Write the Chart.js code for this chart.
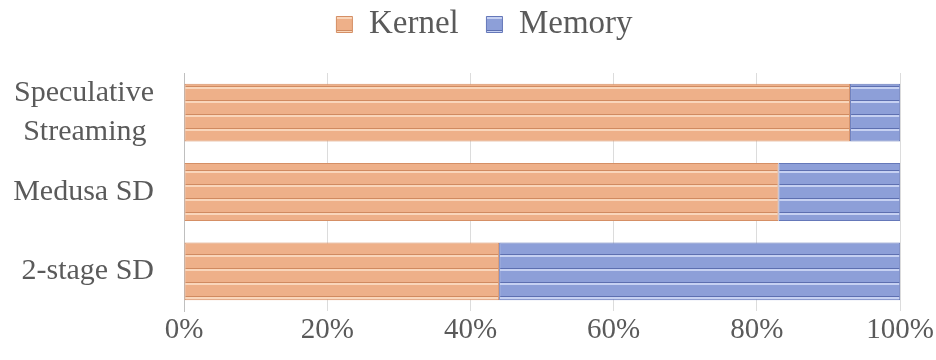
<!DOCTYPE html>
<html>
<head>
<meta charset="utf-8">
<script src="https://cdn.jsdelivr.net/npm/chart.js@4"></script>
<style>
  html, body { margin: 0; padding: 0; background: #fff; }
  #wrap { width: 936px; height: 360px; }
</style>
</head>
<body>
<div id="wrap"><canvas id="breakdown"></canvas></div>
<script>
'use strict';

const CATEGORIES = [['Speculative', 'Streaming '], 'Medusa SD', '2-stage SD'];
const KERNEL     = [93, 83, 44];
const MEMORY     = [7, 17, 56];
const X_TICKS    = [0, 20, 40, 60, 80, 100];

const TEXT_COLOR = '#5a5a5a';
const SERIF      = '"Liberation Serif", "DejaVu Serif", serif';

// Horizontal striped fill used for bars and legend swatches (14px period)
function stripes(base, dark, light) {
  const c = document.createElement('canvas');
  c.width = 4;
  c.height = 14;
  const g = c.getContext('2d');
  g.fillStyle = base;
  g.fillRect(0, 0, 4, 14);
  g.fillStyle = dark;
  g.fillRect(0, 2, 4, 1);
  g.fillStyle = light;
  g.fillRect(0, 3, 4, 2);
  return g.createPattern(c, 'repeat');
}

const kernelFill = stripes('#eeb089', '#d08a60', '#f9d6bb');
const memoryFill = stripes('#8d9fd8', '#5d6fb0', '#c6d1f2');

// extra room under the legend and a nudge to the right
const legendPlacement = {
  id: 'legendPlacement',
  beforeInit(chart) {
    const fit = chart.legend.fit;
    chart.legend.fit = function () {
      fit.call(this);
      this.height += 22;
    };
  },
  afterLayout(chart) {
    chart.legend.left += 34;
    chart.legend.right += 34;
  },
};

new Chart(document.getElementById('breakdown'), {
  type: 'bar',
  data: {
    labels: CATEGORIES,
    datasets: [
      {
        label: 'Kernel',
        data: KERNEL,
        backgroundColor: kernelFill,
        borderColor: '#d58f65',
        borderWidth: 1,
        borderSkipped: false,
      },
      {
        label: 'Memory',
        data: MEMORY,
        backgroundColor: memoryFill,
        borderColor: '#6578b9',
        borderWidth: 1,
        borderSkipped: false,
      },
    ],
  },
  options: {
    indexAxis: 'y',
    responsive: true,
    maintainAspectRatio: false,
    animation: false,
    layout: { padding: { top: 5, right: 35, bottom: 0, left: 0 } },
    datasets: {
      bar: { barPercentage: 0.73, categoryPercentage: 1.0 },
    },
    plugins: {
      tooltip: { enabled: false },
      legend: {
        position: 'top',
        labels: {
          color: TEXT_COLOR,
          font: { family: SERIF, size: 33 },
          boxWidth: 16,
          boxHeight: 16,
          padding: 3,
          generateLabels: chart => {
            const items = Chart.defaults.plugins.legend.labels.generateLabels(chart);
            items.forEach((it, i) => { if (i === 0) it.text = it.text + '   '; });
            return items;
          },
        },
      },
    },
    scales: {
      x: {
        stacked: true,
        min: 0,
        max: 100,
        afterBuildTicks: s => { s.ticks = X_TICKS.map(v => ({ value: v })); },
        afterFit: s => { s.height = 49; },
        ticks: {
          color: TEXT_COLOR,
          font: { family: SERIF, size: 29 },
          padding: 2,
          maxRotation: 0,
          callback: v => v + '%',
        },
        grid: { color: '#dcdcdc', drawTicks: false },
        border: { display: false },
      },
      y: {
        stacked: true,
        afterFit: s => {
          s.width = 184;
          s.paddingTop = 0;
          s.paddingBottom = 0;
        },
        ticks: {
          color: TEXT_COLOR,
          font: { family: SERIF, size: 30, lineHeight: 1.27 },
          padding: 30,
        },
        grid: { display: false, drawTicks: false },
        border: { color: '#bfbfbf', width: 1 },
      },
    },
  },
  plugins: [legendPlacement],
});
</script>
</body>
</html>
